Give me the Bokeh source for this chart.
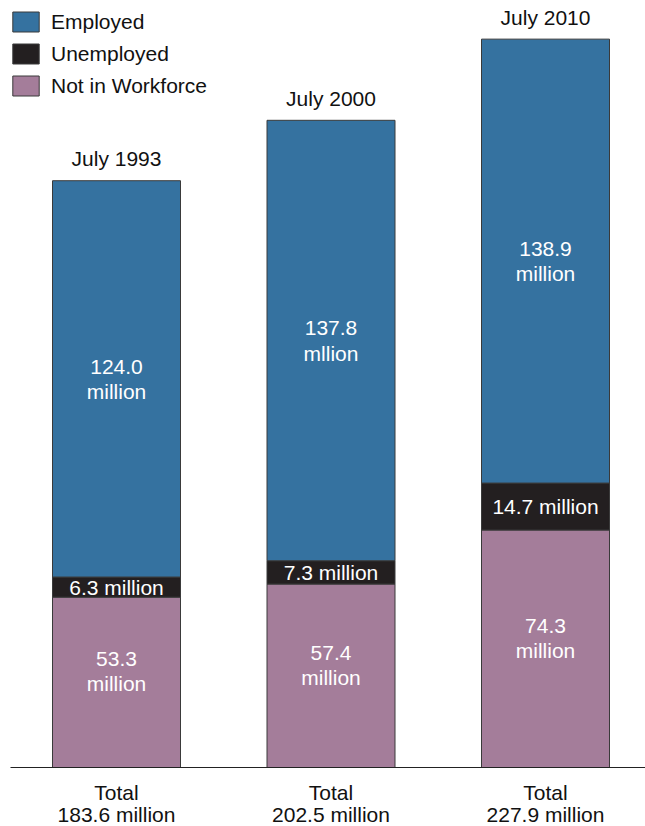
from bokeh.plotting import figure
from bokeh.models import ColumnDataSource, Range1d, Legend, LegendItem
from bokeh.core.properties import value
from bokeh.embed import file_html
from bokeh.resources import INLINE

# ---- data ----
years = ["July 1993", "July 2000", "July 2010"]
employed = [124.0, 137.8, 138.9]
unemployed = [6.3, 7.3, 14.7]
not_in_workforce = [53.3, 57.4, 74.3]
totals = [183.6, 202.5, 227.9]
employed_labels = ["124.0\nmillion", "137.8\nmllion", "138.9\nmillion"]
unemployed_labels = ["6.3 million", "7.3 million", "14.7 million"]
not_in_labels = ["53.3\nmillion", "57.4\nmillion", "74.3\nmillion"]
total_labels = ["Total\n183.6 million", "Total\n202.5 million", "Total\n227.9 million"]

# ---- styling ----
BLUE = "#3572a0"
BLACK = "#231f20"
PINK = "#a47d9a"
EDGE = "#3a3a3a"
FONT_NAME = "Liberation Sans"
FONT = value(FONT_NAME)
FS = "21px"

W, H = 645, 826
xs = list(range(len(years)))
src = ColumnDataSource(dict(
    x=xs,
    employed=employed,
    unemployed=unemployed,
    not_in=not_in_workforce,
    total=totals,
    emp_y=[n + u + e / 2 for n, u, e in zip(not_in_workforce, unemployed, employed)],
    unemp_y=[n + u / 2 for n, u in zip(not_in_workforce, unemployed)],
    not_y=[n / 2 for n in not_in_workforce],
    zero=[0] * len(xs),
    years=years,
    emp_lab=employed_labels,
    unemp_lab=unemployed_labels,
    not_lab=not_in_labels,
    tot_lab=total_labels,
))

px_per_x = 214.5
x0 = 116
px_per_y = 3.196
base_px = 767

p = figure(width=W, height=H, output_backend="svg", toolbar_location=None,
           x_range=Range1d(-x0 / px_per_x, (W - x0) / px_per_x),
           y_range=Range1d(-(H - base_px) / px_per_y, base_px / px_per_y),
           min_border=0, x_axis_location=None, y_axis_location=None,
           outline_line_color=None, background_fill_color="white",
           border_fill_color="white")
p.xgrid.visible = False
p.ygrid.visible = False

bw = 128 / px_per_x
rs = p.vbar_stack(["not_in", "unemployed", "employed"], x="x", width=bw, source=src,
                  color=[PINK, BLACK, BLUE])
for r in rs:
    r.glyph.line_color = EDGE
    r.glyph.line_width = 1

# baseline
p.segment(x0=[p.x_range.start + 10 / px_per_x], x1=[p.x_range.end], y0=[0], y1=[0],
          line_color="#222222", line_width=1.2)

common = dict(text_font=FONT, text_font_size=FS, text_align="center",
              text_baseline="middle", source=src)
p.text(x="x", y="emp_y", text="emp_lab", text_color="white", text_line_height=1.1, **common)
p.text(x="x", y="unemp_y", text="unemp_lab", text_color="white", **common)
p.text(x="x", y="not_y", text="not_lab", text_color="white", text_line_height=1.1,
       y_offset=-11, **common)
p.text(x="x", y="total", text="years", text_color="#111111", y_offset=-22, **common)
p.text(x="x", y="zero", text="tot_lab", text_color="#111111", text_line_height=0.95,
       y_offset=36, **common)

legend = Legend(items=[
    LegendItem(label="Employed", renderers=[rs[2]]),
    LegendItem(label="Unemployed", renderers=[rs[1]]),
    LegendItem(label="Not in Workforce", renderers=[rs[0]]),
], location="top_left", margin=0, padding=9, spacing=7,
    glyph_width=33, glyph_height=25, label_standoff=9,
    label_text_font=FONT_NAME, label_text_font_size=FS, label_text_color="#111111",
    border_line_alpha=0, background_fill_alpha=0)
p.add_layout(legend, "center")

open("out.html", "w").write(file_html(p, INLINE))
